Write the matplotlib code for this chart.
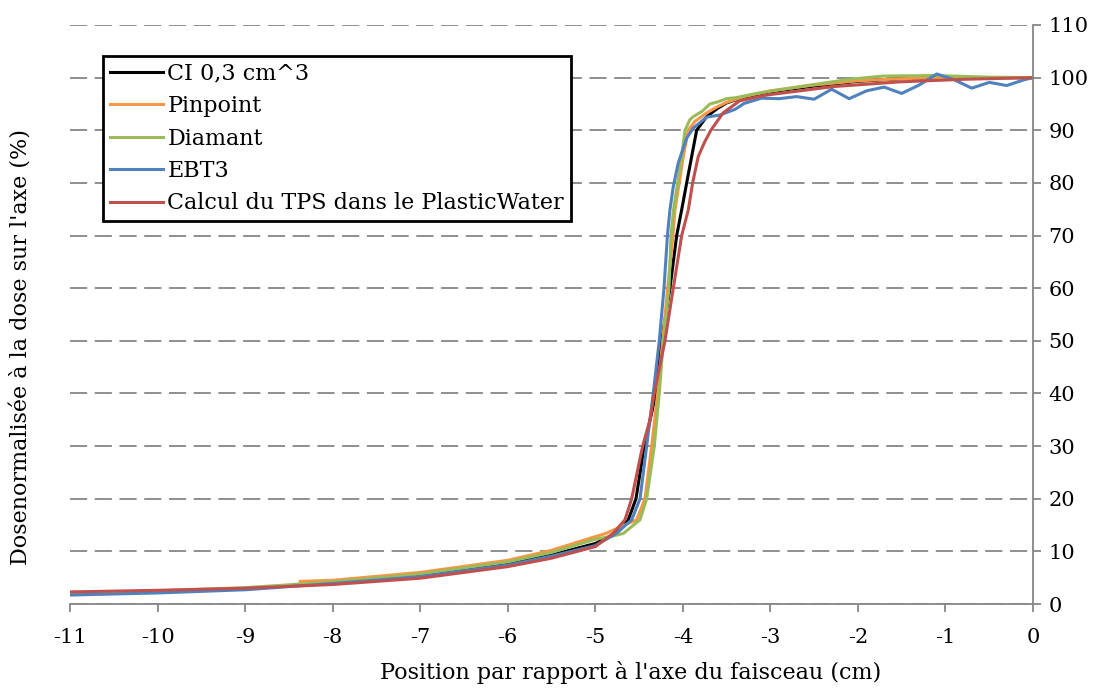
import numpy as np
import matplotlib
matplotlib.use("Agg")
import matplotlib.pyplot as plt

# Dose profiles (position in cm, dose in %)
ci_x = [-11, -10, -9, -8, -7, -6, -5.5, -5, -4.76, -4.623, -4.535, -4.44, -4.307, -4.242,
        -4.147, -4.07, -4.013, -3.956, -3.899, -3.842, -3.728, -3.6, -3.499, -3.3, -3.0,
        -2.5, -2.0, -1.5, -1.0, -0.5, 0]
ci_y = [2.0, 2.4, 2.9, 4.0, 5.3, 7.6, 9.3, 11.5, 13.4, 16, 20, 30, 40, 50,
        60, 70, 74.9, 80, 85, 90, 92.6, 94.2, 95.2, 96.3, 97.3,
        98.4, 99.3, 99.8, 100.0, 100.0, 100]

pin_x = [-8.37, -8, -7, -6, -5.5, -5, -4.88, -4.72, -4.527, -4.432, -4.356, -4.287, -4.23,
         -4.173, -4.113, -4.09, -4.041, -3.995, -3.938, -3.861, -3.728, -3.6, -3.499, -3.3,
         -3.0, -2.5, -2.0, -1.5, -1.0, -0.5, 0]
pin_y = [4.3, 4.5, 6.0, 8.3, 10.2, 12.8, 13.4, 14.6, 16, 20, 30, 40, 50,
         60, 70, 74.9, 80, 85, 90, 91.7, 93.3, 94.5, 95.3, 96.4,
         97.5, 98.6, 99.4, 99.8, 100.0, 100.0, 100]

dia_x = [-11, -10, -9, -8, -7, -6, -5.5, -5, -4.8, -4.68, -4.489, -4.413, -4.326, -4.269,
         -4.223, -4.158, -4.135, -4.105, -4.059, -4.013, -3.975, -3.92, -3.88, -3.78, -3.69,
         -3.6, -3.5, -3.39, -3.16, -2.66, -2.09, -1.71, -1.14, -0.5, 0]
dia_y = [2.0, 2.5, 3.1, 4.2, 5.7, 8.0, 9.8, 12.3, 12.9, 13.4, 16, 20, 30, 40,
         50, 60, 70, 75, 80, 85, 90, 92.0, 92.6, 93.6, 95.0,
         95.4, 96.0, 96.2, 97.0, 98.3, 99.7, 100.3, 100.4, 100.1, 100]

ebt_x = [-11, -10, -9, -8, -7, -6, -5.5, -5, -4.76, -4.584, -4.489, -4.413, -4.338, -4.269,
         -4.215, -4.176, -4.147, -4.109, -4.052, -3.956, -3.881, -3.728, -3.576, -3.4, -3.3,
         -3.1, -2.9, -2.7, -2.5, -2.3, -2.1, -1.9, -1.7, -1.5, -1.3, -1.1, -0.9, -0.7,
         -0.5, -0.3, -0.1, 0]
ebt_y = [1.7, 2.1, 2.7, 3.9, 5.2, 7.4, 9.1, 11.1, 13.4, 16, 20, 30, 40, 50,
         60, 70, 74.9, 79.3, 83.8, 88.5, 90.4, 92.5, 92.9, 94.0, 95.1,
         96.1, 96.0, 96.4, 95.9, 97.8, 96.0, 97.5, 98.2, 97.0, 98.6, 100.7, 99.6, 98.0,
         99.1, 98.5, 99.6, 100]

tps_x = [-11, -10, -9, -8, -7, -6, -5.5, -5, -4.798, -4.661, -4.584, -4.459, -4.375, -4.326,
         -4.204, -4.109, -4.013, -3.937, -3.888, -3.824, -3.75, -3.68, -3.54, -3.35, -3.04,
         -2.28, -1.52, -0.76, 0]
tps_y = [2.3, 2.6, 3.0, 3.7, 4.9, 7.1, 8.7, 10.9, 13.4, 16, 20, 30, 35, 40,
         50, 60, 70, 74.9, 80, 85, 87.8, 90, 93.3, 95.6, 96.7,
         98.3, 99.2, 99.7, 100]

labels = ["CI 0,3 cm^3", "Pinpoint", "Diamant", "EBT3", "Calcul du TPS dans le PlasticWater"]
colors = ["#000000", "#F79646", "#9BBB59", "#4F81BD", "#C0504D"]

plt.rcParams["font.family"] = "DejaVu Serif"
plt.rcParams["axes.unicode_minus"] = False
fs = 16
fs_tick = 15
gray = "#868686"

fig = plt.figure(figsize=(11.06, 6.91), dpi=100)
ax = fig.add_axes([70 / 1106, 1 - 604 / 691, 963 / 1106, 579 / 691])

series = [(ci_x, ci_y), (pin_x, pin_y), (dia_x, dia_y), (ebt_x, ebt_y), (tps_x, tps_y)]
for (x, y), lab, c in zip(series, labels, colors):
    ax.plot(x, y, color=c, lw=2.2, label=lab, solid_joinstyle="round")

ax.set_xlim(-11, 0)
ax.set_ylim(0, 110)
ax.set_xticks(np.arange(-11, 1, 1))
ax.set_yticks(np.arange(0, 111, 10))

ax.yaxis.tick_right()
ax.yaxis.set_label_position("left")
ax.grid(axis="y", color=gray, lw=1.3, linestyle=(0, (9.5, 4.2)))
ax.set_axisbelow(True)

for s in ["top", "left"]:
    ax.spines[s].set_visible(False)
for s in ["right", "bottom"]:
    ax.spines[s].set_color(gray)
    ax.spines[s].set_linewidth(1.3)

ax.tick_params(axis="x", direction="out", length=6, width=1.3, color=gray, pad=11, labelsize=fs_tick)
ax.tick_params(axis="y", direction="out", length=6, width=1.3, color=gray, pad=5, labelsize=fs_tick)

ax.set_xlabel("Position par rapport à l'axe du faisceau (cm)", fontsize=fs)
ax.set_ylabel("Dosenormalisée à la dose sur l'axe (%)", fontsize=fs)
ax.xaxis.set_label_coords(0.5826, -0.098)
ax.yaxis.set_label_coords(-0.039, 0.444)

leg = ax.legend(loc="upper left", bbox_to_anchor=((103 - 70) / 963, (604 - 56) / 579),
                bbox_transform=ax.transAxes, borderaxespad=0, fontsize=fs,
                fancybox=False, framealpha=1, edgecolor="black",
                handlelength=2.4, handletextpad=0.2, labelspacing=0.47, borderpad=0.3)
leg.get_frame().set_linewidth(2)

fig.savefig("out.png", dpi=100)
